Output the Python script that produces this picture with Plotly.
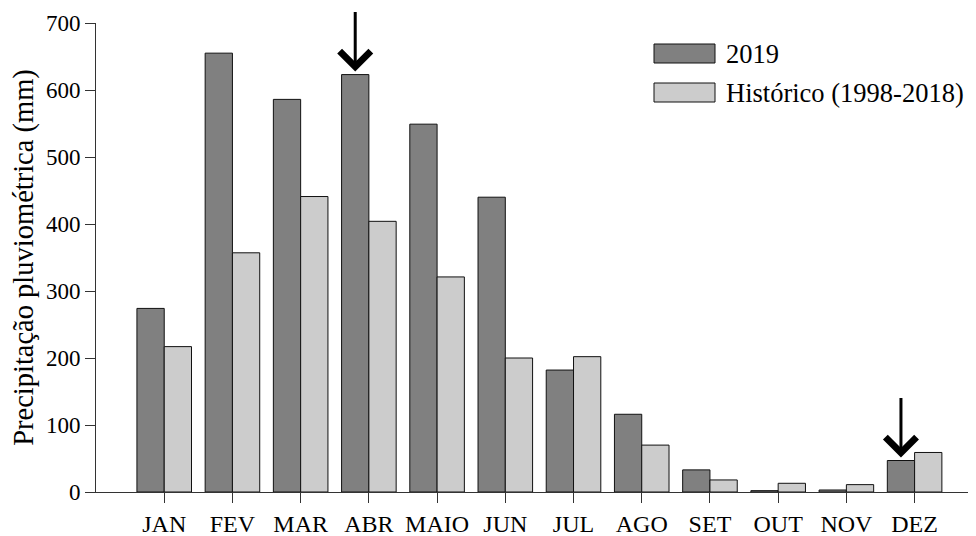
import plotly.graph_objects as go

months = ["JAN", "FEV", "MAR", "ABR", "MAIO", "JUN", "JUL", "AGO", "SET", "OUT", "NOV", "DEZ"]
rain_2019 = [274, 655, 586, 623, 549, 440, 182, 116, 33, 2, 3, 47]
rain_hist = [217, 357, 441, 404, 321, 200, 202, 70, 18, 13, 11, 59]
series_names = ["2019", "Histórico (1998-2018)"]
y_ticks = [0, 100, 200, 300, 400, 500, 600, 700]
arrow_months = ["ABR", "DEZ"]

FONT = "Liberation Serif"
DARK = "#808080"
LIGHT = "#cccccc"

# page body has an 8px margin: compensate so the plot area sits at x 96-976, y 23-492
OFF = 8
W, H = 976 - OFF, 536 - OFF
L, T, B, R = 96 - OFF, 23 - OFF, 44, 0

fig = go.Figure()
fig.add_trace(go.Bar(x=months, y=rain_2019, name=series_names[0], marker=dict(color=DARK, line=dict(color="#111", width=1))))
fig.add_trace(go.Bar(x=months, y=rain_hist, name=series_names[1], marker=dict(color=LIGHT, line=dict(color="#111", width=1))))

# arrows pointing to the 2019 bars
for m in arrow_months:
    i = months.index(m)
    fig.add_annotation(x=i - 0.2, y=rain_2019[i], xref="x", yref="y", ax=0, ay=-64,
                       showarrow=True, arrowhead=4, arrowwidth=3, arrowsize=2,
                       arrowcolor="black", standoff=3, text="")

# manual legend (window pixel coords -> paper)
def px_x(p):
    return (p - 96) / 880
def px_y(p):
    return (492 - p) / 469

legend_items = [(series_names[0], DARK, 44, 63), (series_names[1], LIGHT, 83, 102)]
for name, col, top, bot in legend_items:
    fig.add_shape(type="rect", xref="paper", yref="paper", x0=px_x(654), x1=px_x(715),
                  y0=px_y(bot), y1=px_y(top), fillcolor=col, line=dict(color="#111", width=1))
    fig.add_annotation(xref="paper", yref="paper", x=px_x(724), y=px_y((top + bot) / 2),
                       xanchor="left", yanchor="middle", text=name, showarrow=False,
                       font=dict(family=FONT, size=26.5, color="black"))

fig.update_layout(
    width=W, height=H,
    margin=dict(l=L, r=R, t=T, b=B, autoexpand=False),
    paper_bgcolor="white", plot_bgcolor="white",
    barmode="group", bargap=0.2, bargroupgap=0,
    showlegend=False,
    font=dict(family=FONT, color="black"),
)
fig.update_xaxes(range=[-1, 11.9], showline=True, linecolor="#333", linewidth=1,
                 ticks="outside", ticklen=10, tickcolor="#333", showgrid=False,
                 tickfont=dict(family=FONT, size=24, color="black"))
fig.update_yaxes(range=[0, 700], tickvals=y_ticks, showline=True, linecolor="#333", linewidth=1,
                 ticks="outside", ticklen=10, tickcolor="#333", showgrid=False, zeroline=False,
                 tickfont=dict(family=FONT, size=23, color="black"),
                 title=dict(text="Precipitação pluviométrica (mm)", font=dict(family=FONT, size=28.5, color="black"), standoff=6))

fig.write_html("out.html")
